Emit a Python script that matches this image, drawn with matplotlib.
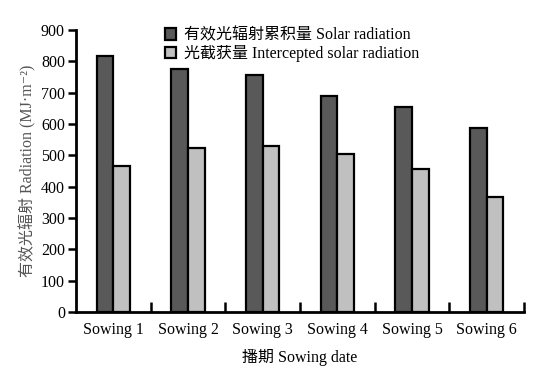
import matplotlib
matplotlib.use('Agg')
import matplotlib.pyplot as plt
import numpy as np

# data
sowings = ['Sowing 1', 'Sowing 2', 'Sowing 3', 'Sowing 4', 'Sowing 5', 'Sowing 6']
solar_radiation = [817, 777, 756, 690, 655, 586]
intercepted_radiation = [466, 522, 531, 505, 457, 366]
y_ticks = [0, 100, 200, 300, 400, 500, 600, 700, 800, 900]

plt.rcParams['font.family'] = ['Liberation Serif', 'Noto Sans CJK SC', 'DejaVu Sans']
plt.rcParams['font.size'] = 11.5


def make_graph():
    fig = plt.figure(figsize=(5.36, 3.82), dpi=100)
    ax = fig.add_axes([0.1418, 0.1832, 0.8358, 0.7383])

    x = np.arange(len(sowings))
    width = 0.225
    ax.bar(x - width / 2, solar_radiation, width, color='#595959', edgecolor='black',
           linewidth=1.6, label='有效光辐射累积量 Solar radiation')
    ax.bar(x + width / 2, intercepted_radiation, width, color='#c0c0c0', edgecolor='black',
           linewidth=1.6, label='光截获量 Intercepted solar radiation')

    ax.set_xlim(-0.5, len(sowings) - 0.5)
    ax.set_ylim(0, 900)
    ax.set_yticks(y_ticks)

    # category labels without ticks, boundary ticks pointing inward
    ax.set_xticks(x)
    ax.set_xticklabels(sowings)
    ax.tick_params(axis='x', which='major', length=0, pad=7)
    ax.set_xticks(np.arange(0.5, len(sowings), 1.0), minor=True)
    ax.tick_params(axis='x', which='minor', direction='in', length=7, width=1.8)
    ax.tick_params(axis='y', direction='out', length=6, width=1.8, pad=2)

    for side in ['top', 'right']:
        ax.spines[side].set_visible(False)
    for side in ['left', 'bottom']:
        ax.spines[side].set_linewidth(2)

    ax.set_xlabel('播期 Sowing date', labelpad=8)
    ax.set_ylabel('有效光辐射 Radiation (MJ·m⁻²)', color='#555555', labelpad=3)

    ax.legend(loc='upper left', bbox_to_anchor=(0.185, 1.031), frameon=False,
              handlelength=0.7, handleheight=0.7, handletextpad=0.45,
              labelspacing=0.1, borderaxespad=0)

    fig.savefig('out.png', dpi=100)


if __name__ == '__main__':
    make_graph()
